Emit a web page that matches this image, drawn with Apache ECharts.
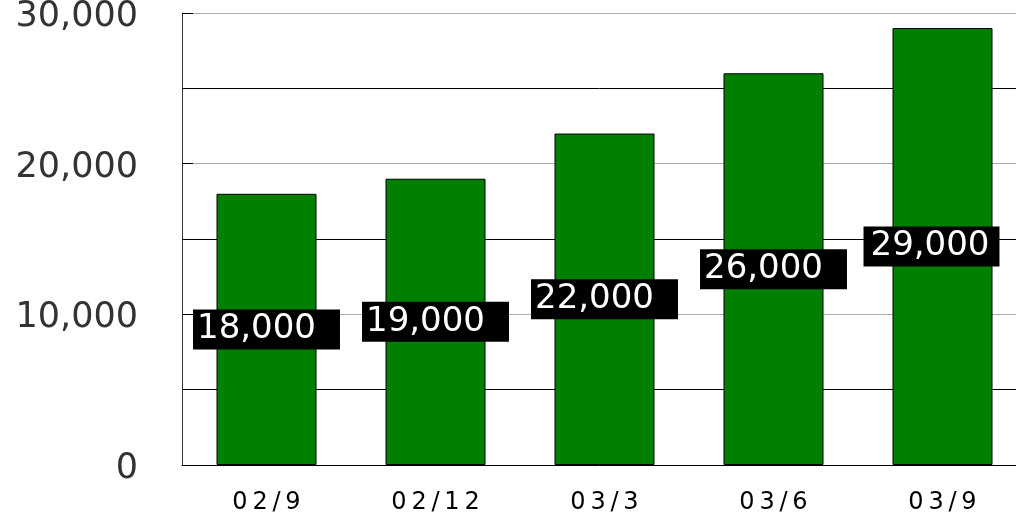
<!DOCTYPE html>
<html>
<head>
    <meta charset="utf-8">
    <title>ECharts</title>
    <script src="https://cdn.jsdelivr.net/npm/echarts@6/dist/echarts.min.js"></script>
</head>
<body style="margin:0">
<div id="main" style="width: 1016px;height:513px;"></div>
<script type="text/javascript">
    var categories = ['02/9', '02/12', '03/3', '03/6', '03/9'];
    var values = [18000, 19000, 22000, 26000, 29000];
    var yTicks = [0, 10000, 20000, 30000];

    function fmt(v) {
        return v.toLocaleString('en-US');
    }
    // spread the letters a bit, like the original
    function spread(s) {
        return s.split('').join('\u2009');
    }

    var myChart = echarts.init(document.getElementById('main'));

    // last label box is narrower in the original (it sits at the edge)
    var barData = values.map(function (v, i) {
        if (i === values.length - 1) {
            return {value: v, label: {padding: [3, 10, 3, 7], offset: [-11, 0]}};
        }
        return v;
    });

    var option = {
        animation: false,
        grid: {left: 182, top: 13, width: 845, height: 452, outerBoundsMode: 'none'},
        xAxis: {
            type: 'category',
            data: categories,
            axisLine: {lineStyle: {color: '#000', width: 1}},
            axisTick: {inside: true, length: 8, lineStyle: {color: '#555'}},
            axisLabel: {
                margin: 26,
                color: '#000',
                fontFamily: 'DejaVu Sans',
                fontSize: 24,
                formatter: spread
            }
        },
        yAxis: {
            type: 'value',
            min: 0,
            max: 30000,
            interval: 5000,
            axisLine: {show: true, lineStyle: {color: '#333'}},
            axisTick: {show: true, inside: true, length: 11, lineStyle: {color: '#000'}},
            axisLabel: {
                margin: 44,
                verticalAlign: 'middle',
                formatter: function (v) {
                    return yTicks.indexOf(v) >= 0 ? '{t|' + fmt(v) + '}' : '';
                },
                rich: {
                    t: {
                        color: '#333',
                        fontFamily: 'DejaVu Sans',
                        fontSize: 35,
                        padding: [8, 0, 0, 0]
                    }
                }
            },
            splitLine: {lineStyle: {color: ['#aaa', '#000'], width: 1}}
        },
        series: [{
            type: 'bar',
            data: barData,
            barWidth: 100,
            itemStyle: {color: '#007f00', borderColor: '#000', borderWidth: 1},
            label: {
                show: true,
                position: 'inside',
                color: '#fff',
                fontFamily: 'DejaVu Sans',
                fontSize: 34,
                backgroundColor: '#000',
                padding: [3, 24, 3, 4],
                formatter: function (p) { return fmt(p.value); }
            }
        }]
    };

    myChart.setOption(option);
</script>
</body>
</html>
